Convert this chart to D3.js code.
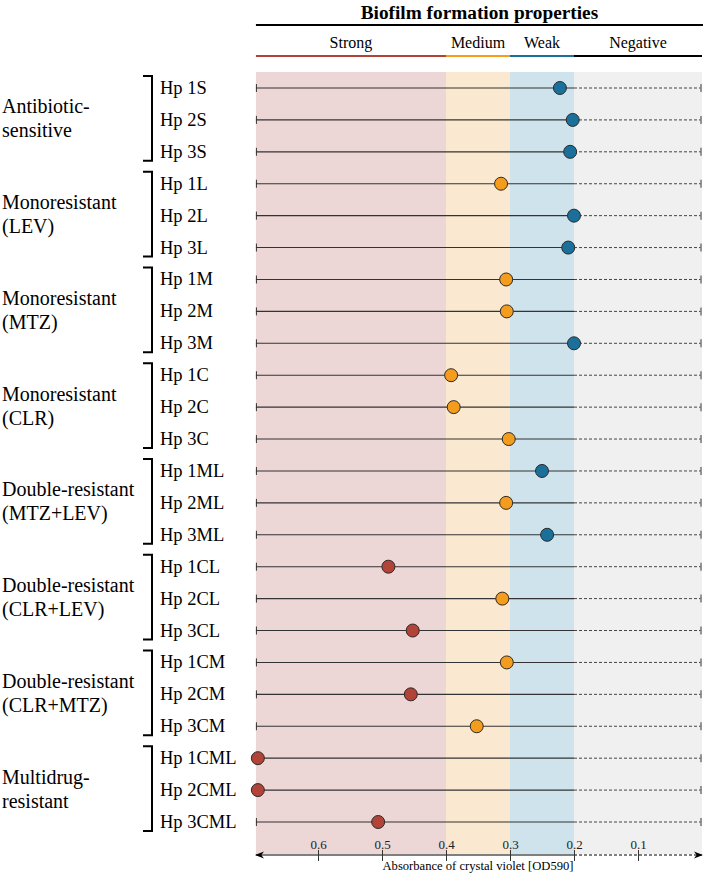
<!DOCTYPE html>
<html><head><meta charset="utf-8">
<script src="https://cdn.jsdelivr.net/npm/d3@7"></script>
<style>body{margin:0;background:#fff}svg{display:block}</style>
</head><body><svg id="c" width="703" height="875" font-family="Liberation Serif, Times New Roman, serif"></svg>
<script>
const strains = ["Hp 1S","Hp 2S","Hp 3S","Hp 1L","Hp 2L","Hp 3L","Hp 1M","Hp 2M","Hp 3M","Hp 1C","Hp 2C","Hp 3C","Hp 1ML","Hp 2ML","Hp 3ML","Hp 1CL","Hp 2CL","Hp 3CL","Hp 1CM","Hp 2CM","Hp 3CM","Hp 1CML","Hp 2CML","Hp 3CML"];
const od590 = [0.222,0.202,0.206,0.314,0.200,0.209,0.306,0.305,0.200,0.392,0.388,0.302,0.250,0.306,0.242,0.490,0.312,0.452,0.305,0.455,0.352,0.694,0.694,0.506];
const groups = [["Antibiotic-","sensitive"],["Monoresistant","(LEV)"],["Monoresistant","(MTZ)"],["Monoresistant","(CLR)"],["Double-resistant","(MTZ+LEV)"],["Double-resistant","(CLR+LEV)"],["Double-resistant","(CLR+MTZ)"],["Multidrug-","resistant"]];
const classes = ["Strong","Medium","Weak","Negative"];
const classBounds = [[0.697,0.4],[0.4,0.3],[0.3,0.2],[0.2,0]];
const classColors = ["#b24338","#f39c1e","#1b6f9b","#000000"];
const bandColors = ["#edd6d6","#fbe8d0","#cfe3ec","#f0f0f0"];
const tickValues = [0.6,0.5,0.4,0.3,0.2,0.1];

const FONT = "Liberation Serif, Times New Roman, serif";
const svg = d3.select("#c");
const x = d3.scaleLinear().domain([0.7,0]).range([254,702]);
const y = d3.scalePoint().domain(strains).range([88,822]);
const bandTop = 72, bandBot = 854;
const xL = x(classBounds[0][0]), xR = x(0);

// background bands
svg.selectAll("rect.band").data(classBounds).join("rect")
  .attr("x", d=>x(d[0])).attr("width", d=>x(d[1])-x(d[0]))
  .attr("y", bandTop).attr("height", bandBot-bandTop)
  .attr("fill", (d,i)=>bandColors[i]);

// header
svg.append("text").attr("x",(xL+703)/2).attr("y",19).attr("text-anchor","middle")
  .attr("font-weight","bold").attr("font-size",19.3).text("Biofilm formation properties");
svg.append("line").attr("x1",xL).attr("x2",703).attr("y1",25).attr("y2",25).attr("stroke","#000").attr("stroke-width",2);
svg.selectAll("text.cls").data(classBounds).join("text")
  .attr("x", d=>(x(d[0])+Math.min(x(d[1]),703))/2).attr("y",48).attr("text-anchor","middle")
  .attr("font-size",16).text((d,i)=>classes[i]);
svg.selectAll("line.cls").data(classBounds).join("line")
  .attr("x1", d=>x(d[0])).attr("x2", d=>Math.min(x(d[1]),703))
  .attr("y1",56).attr("y2",56).attr("stroke",(d,i)=>classColors[i]).attr("stroke-width",2);

// row lines
const rows = svg.append("g");
strains.forEach((s,i)=>{
  const yy = y(s);
  rows.append("line").attr("x1",xL).attr("x2",x(0.2)).attr("y1",yy).attr("y2",yy).attr("stroke","#333").attr("stroke-width",1.1);
  rows.append("line").attr("x1",x(0.2)).attr("x2",xR-1).attr("y1",yy).attr("y2",yy).attr("stroke","#444").attr("stroke-width",1).attr("stroke-dasharray","3,2");
  rows.append("line").attr("x1",xL+0.5).attr("x2",xL+0.5).attr("y1",yy-4).attr("y2",yy+4).attr("stroke","#333");
  rows.append("line").attr("x1",xR-1).attr("x2",xR-1).attr("y1",yy-4).attr("y2",yy+4).attr("stroke","#777").attr("stroke-width",1.5);
});

// dots
function colorFor(v){ if(v>0.4) return classColors[0]; if(v>0.3) return classColors[1]; return classColors[2]; }
svg.selectAll("circle.dot").data(od590).join("circle")
  .attr("cx", d=>x(d)).attr("cy",(d,i)=>y(strains[i])).attr("r",6.5)
  .attr("fill", d=>colorFor(d)).attr("stroke","#2a2a2a").attr("stroke-width",1);

// row labels
svg.selectAll("text.row").data(strains).join("text")
  .attr("x",160).attr("y",d=>y(d)+6).attr("font-size",18.5).text(d=>d);

// group brackets & labels
groups.forEach((g,gi)=>{
  const y0 = y(strains[gi*3]) - 12, y1 = y(strains[gi*3+2]) + 9;
  svg.append("path").attr("d",`M143,${y0}H152V${y1}H143`).attr("fill","none").attr("stroke","#000").attr("stroke-width",2);
  const cy = (y0+y1)/2;
  const t = svg.append("text").attr("x",2).attr("font-size",20);
  t.append("tspan").attr("x",2).attr("y",cy-5).text(g[0]);
  t.append("tspan").attr("x",2).attr("y",cy+19).text(g[1]);
});

// axis
const axY = 855;
const defs = svg.append("defs");
defs.append("marker").attr("id","arr").attr("viewBox","0 0 10 10").attr("refX",9).attr("refY",5)
  .attr("markerWidth",9).attr("markerHeight",9).attr("orient","auto-start-reverse").attr("markerUnits","userSpaceOnUse")
  .append("path").attr("d","M0,1L10,5L0,9L3,5Z").attr("fill","#000");
svg.append("line").attr("x1",xL).attr("x2",x(0.2)).attr("y1",axY).attr("y2",axY).attr("stroke","#000").attr("stroke-width",1.1).attr("marker-start","url(#arr)");
svg.append("line").attr("x1",x(0.2)).attr("x2",xR).attr("y1",axY).attr("y2",axY).attr("stroke","#000").attr("stroke-width",1).attr("stroke-dasharray","3,2").attr("marker-end","url(#arr)");
const ax = d3.axisBottom(x).tickValues(tickValues).tickSize(0).tickFormat(d3.format(".1f"));
const ag = svg.append("g").attr("transform",`translate(0,${axY})`).call(ax);
ag.attr("font-family",FONT);
ag.select(".domain").remove();
ag.selectAll(".tick line").attr("y1",-5).attr("y2",6).attr("stroke","#333");
ag.selectAll(".tick text").attr("y",-6).attr("dy",0).attr("font-size",13).attr("fill","#222");
svg.append("text").attr("x",x(0.35)).attr("y",870).attr("text-anchor","middle").attr("font-size",12.6).text("Absorbance of crystal violet [OD590]");
</script></body></html>
